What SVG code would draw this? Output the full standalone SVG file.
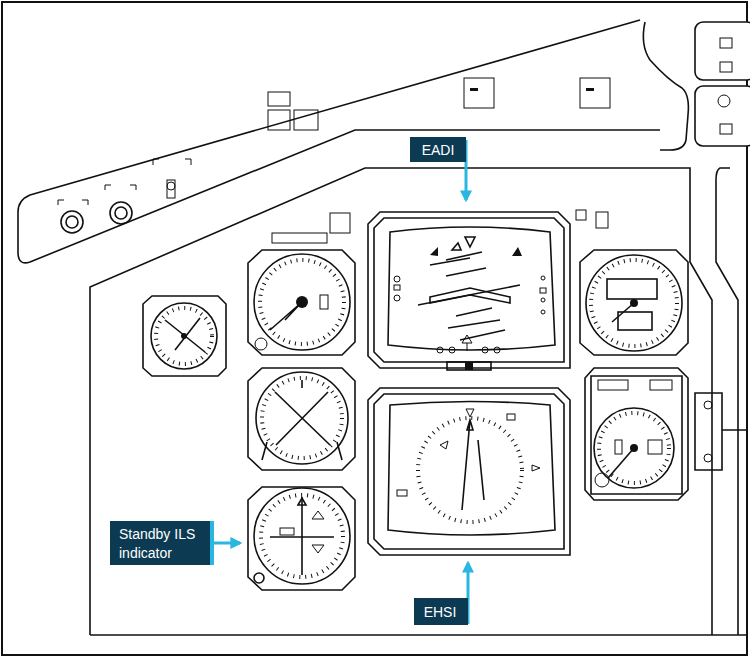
<svg xmlns="http://www.w3.org/2000/svg" width="750" height="658" viewBox="0 0 750 658">
<defs>
<style>
.l{fill:none;stroke:#111;stroke-width:1.6}
.t{fill:none;stroke:#111;stroke-width:1}
.f{fill:#fff;stroke:#111;stroke-width:1.6}
.k{fill:#111}
.tick{fill:none;stroke:#111;stroke-width:4;stroke-dasharray:1 5}
.lab{fill:#0b3a52}
.bar{fill:#29b6e0}
.txt{font-family:"Liberation Sans",Arial,sans-serif;font-size:14px;fill:#fff}
.arr{stroke:#29b6e0;stroke-width:3;fill:none}
</style>
<marker id="ah" viewBox="0 0 10 10" refX="8" refY="5" markerWidth="4" markerHeight="4" orient="auto"><path d="M0,0L10,5L0,10z" fill="#29b6e0"/></marker>
</defs>
<rect x="0" y="0" width="750" height="658" fill="#fff"/>
<rect x="2" y="2" width="745" height="653" fill="none" stroke="#111" stroke-width="2"/>
<g id="panel">
<path class="l" d="M640,20 L30,195 Q18,200 18,212 L18,252 Q18,266 30,262 L355,130 L660,130"/>
<path class="l" d="M645,22 Q640,45 650,60 Q668,80 682,88 Q690,95 688,115 L686,140 Q684,150 670,150 L660,150"/>
<path class="l" d="M90,635 L90,287 L365,168 L690,168 L690,262 L712,300 L712,635"/>
<path class="l" d="M730,168 L720,168 Q716,170 716,180 L716,262 L738,300 L738,635"/>
<path class="l" d="M90,635 L746,635"/>
<rect class="f" x="695" y="22" width="60" height="58" rx="8"/>
<rect class="f" x="695" y="86" width="60" height="60" rx="8"/>
<rect class="t" x="720" y="38" width="12" height="10"/><rect class="t" x="720" y="62" width="12" height="10"/>
<circle class="t" cx="724" cy="101" r="6"/><rect class="t" x="720" y="124" width="12" height="10"/>
<rect class="t" x="464" y="78" width="30" height="30"/><rect class="t" x="580" y="78" width="30" height="30"/>
<rect class="k" x="470" y="88" width="8" height="3"/><rect class="k" x="586" y="88" width="8" height="3"/>
<rect class="t" x="268" y="92" width="22" height="14"/><rect class="t" x="268" y="110" width="22" height="20"/><rect class="t" x="294" y="110" width="24" height="20"/>
<circle class="l" cx="72" cy="222" r="11"/><circle class="l" cx="121" cy="213" r="11"/><circle class="l" cx="72" cy="222" r="6"/><circle class="l" cx="121" cy="213" r="6"/>
<rect class="t" x="167" y="180" width="8" height="18"/><circle class="t" cx="171" cy="186" r="4"/>
<path class="t" d="M153,165 v-6 h6 M185,159 h6 v6 M105,190 v-5 h6 M130,185 h6 v5 M58,205 v-5 h6 M82,200 h6 v5"/>
<rect class="t" x="330" y="213" width="20" height="20"/><rect class="t" x="272" y="233" width="55" height="10"/>
<rect class="t" x="576" y="210" width="10" height="10"/><rect class="t" x="596" y="212" width="12" height="16"/>
</g>
<g id="eadi">
<path class="f" d="M380,212 L558,212 L570,224 L570,368 L380,368 L368,356 L368,224 Z"/>
<path class="l" d="M384,218 L554,218 L564,228 L564,362 L384,362 L374,352 L374,228 Z"/>
<path class="l" d="M390,232 Q470,222 550,232 L555,345 Q470,355 388,345 Z"/>
<rect class="l" x="447" y="362" width="44" height="8"/><rect class="k" x="465" y="362" width="8" height="8"/>
<path class="l" d="M430,297 L470,288 L510,297 L510,303 L470,295 L430,303 Z"/>
<path class="l" d="M418,305 L520,285 M446,260 L482,252 M446,276 L486,268 M456,316 L492,308 M448,328 L500,320 M460,340 L505,330 M430,265 L470,258"/>
<path class="l" d="M470,247 L475,237 L465,237 Z M452,250 L458,243 L461,250 Z" />
<path class="k" d="M430,255 L438,247 L438,256 Z M512,256 L518,247 L522,256 Z"/>
<path class="t" d="M467,343 v8 M462,343 h10 l-5,-8 z"/>
<rect class="t" x="394" y="285" width="6" height="5"/><rect class="t" x="540" y="288" width="6" height="5"/>
<circle class="t" cx="397" cy="279" r="3"/><circle class="t" cx="397" cy="298" r="3"/><circle class="t" cx="543" cy="278" r="2"/><circle class="t" cx="543" cy="300" r="2"/><circle class="t" cx="543" cy="312" r="2"/>
<circle class="t" cx="440" cy="350" r="3"/><circle class="t" cx="452" cy="350" r="3"/><circle class="t" cx="485" cy="350" r="3"/><circle class="t" cx="497" cy="350" r="3"/>
</g>
<g id="ehsi">
<path class="f" d="M380,388 L558,388 L570,400 L570,555 L380,555 L368,543 L368,400 Z"/>
<path class="l" d="M384,394 L554,394 L564,404 L564,549 L384,549 L374,539 L374,404 Z"/>
<path class="l" d="M390,405 Q470,398 550,405 L555,530 Q470,540 388,530 Z"/>
<circle class="tick" cx="470" cy="470" r="52"/>
<path class="l" d="M470,420 L462,510 M478,440 L484,500 M470,420 l-3,10 h6 z"/>
<path class="t" d="M466,409 l4,8 l4,-8 z M440,445 l8,-4 l-2,8 z M532,465 l8,3 l-8,3 z"/>
<rect class="t" x="397" y="490" width="10" height="6"/><rect class="t" x="507" y="414" width="8" height="6"/>
</g>
<g id="asi">
<path class="f" d="M262,250 L342,250 L355,263 L355,342 L342,355 L262,355 L248,342 L248,263 Z"/>
<circle class="l" cx="302" cy="302" r="48"/><circle class="tick" cx="302" cy="302" r="42"/>
<path class="l" d="M302,302 L270,330 M302,302 L285,320"/><circle class="k" cx="302" cy="302" r="6"/>
<rect class="t" x="320" y="295" width="8" height="14"/><circle class="t" cx="261" cy="344" r="6"/>
</g>
<g id="small">
<path class="f" d="M152,296 L218,296 L226,304 L226,368 L218,376 L152,376 L143,368 L143,304 Z"/>
<circle class="l" cx="184" cy="336" r="33"/><circle class="tick" cx="184" cy="336" r="28"/>
<path class="l" d="M165,320 L205,352 M175,350 L200,318"/><circle class="k" cx="184" cy="336" r="3"/>
</g>
<g id="rmi">
<path class="f" d="M262,368 L342,368 L355,381 L355,457 L342,470 L262,470 L248,457 L248,381 Z"/>
<circle class="l" cx="302" cy="418" r="46"/><circle class="tick" cx="302" cy="418" r="40"/>
<path class="l" d="M275,392 L330,445 M328,392 L276,445 M302,380 v8"/>
<path class="l" d="M262,460 l5,-18 M342,460 l-5,-18"/>
</g>
<g id="ils">
<path class="f" d="M262,487 L342,487 L355,500 L355,577 L342,590 L262,590 L248,577 L248,500 Z"/>
<circle class="l" cx="302" cy="536" r="48"/><circle class="tick" cx="302" cy="536" r="41"/>
<path class="l" d="M302,497 L302,575 M270,537 L334,537"/><path class="l" d="M298,505 l4,-7 l4,7 z"/>
<rect class="t" x="280" y="528" width="14" height="7"/>
<path class="t" d="M312,519 l6,-8 l6,8 z M312,545 l6,8 l6,-8 z"/>
<circle class="l" cx="259" cy="578" r="5"/>
</g>
<g id="altimeter">
<path class="f" d="M594,250 L676,250 L688,262 L688,343 L676,355 L594,355 L580,343 L580,262 Z"/>
<circle class="l" cx="634" cy="303" r="48"/><circle class="tick" cx="634" cy="303" r="43"/>
<rect class="l" x="607" y="279" width="50" height="20"/><rect class="l" x="618" y="312" width="34" height="18"/>
<path class="l" d="M634,303 L612,322"/><circle class="k" cx="634" cy="303" r="4"/>
</g>
<g id="vsi">
<path class="f" d="M594,368 L678,368 L688,378 L688,490 L678,500 L594,500 L585,490 L585,378 Z"/>
<path class="l" d="M591,376 L682,376 L682,494 L591,494 Z"/>
<rect class="t" x="598" y="380" width="30" height="10"/><rect class="t" x="650" y="380" width="22" height="10"/>
<circle class="l" cx="634" cy="448" r="40"/><circle class="tick" cx="634" cy="448" r="35"/>
<path class="l" d="M634,448 L608,478"/><circle class="k" cx="634" cy="448" r="4"/>
<rect class="t" x="615" y="440" width="7" height="14"/><rect class="t" x="648" y="440" width="14" height="14"/>
<circle class="t" cx="602" cy="480" r="7"/>
</g>
<g id="bracket">
<path class="l" d="M695,393 L722,393 L722,470 L695,470 Z M722,430 L746,430"/>
<circle class="t" cx="708" cy="405" r="4"/><circle class="t" cx="708" cy="458" r="4"/>
</g>
<g id="connectors">
<path class="arr" d="M466,140 L466,200" marker-end="url(#ah)"/>
<path class="arr" d="M468,624 L468,563" marker-end="url(#ah)"/>
<path class="arr" d="M213,543 L240,543" marker-end="url(#ah)"/>
</g>
<g id="label-eadi"><rect class="lab" x="410" y="137" width="56" height="25"/><text class="txt" x="438" y="155" text-anchor="middle">EADI</text></g>
<g id="label-ehsi"><rect class="lab" x="414" y="598" width="54" height="27"/><text class="txt" x="440" y="617" text-anchor="middle">EHSI</text></g>
<g id="label-ils"><rect class="lab" x="110" y="521" width="100" height="44"/><rect class="bar" x="210" y="521" width="4" height="44"/><text class="txt" x="119" y="539">Standby ILS</text><text class="txt" x="119" y="558">indicator</text></g>
</svg>
